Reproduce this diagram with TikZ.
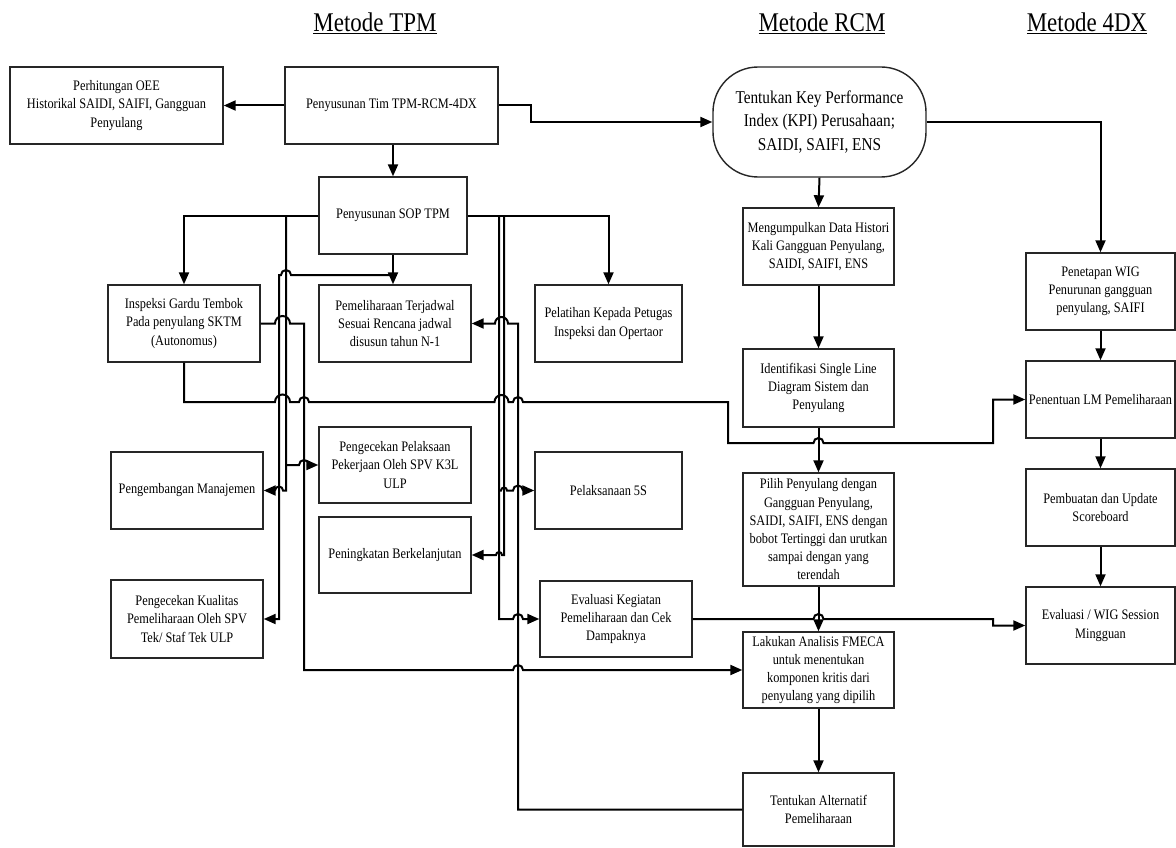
\documentclass[tikz,border=0pt]{standalone}
\usepackage{fontspec}
\setmainfont{Liberation Serif}[FakeStretch=0.85]
\usetikzlibrary{arrows.meta}
\begin{document}
\begin{tikzpicture}[x=1pt,y=-1pt,
 box/.style={draw=black!85, line width=1.4pt, fill=white, minimum width=152pt, minimum height=77pt, inner sep=2pt, align=center, font=\fontsize{14.5}{18.2}\selectfont},
 conn/.style={line width=2pt, black},
 arr/.style={conn, -{Triangle[length=12pt,width=10pt]}},
 ttl/.style={font=\fontsize{27}{30}\selectfont, anchor=base, inner sep=0pt}]
\useasboundingbox (0,0) rectangle (1176,848);
% titles
\node[ttl] (t1) at (375,32) {\underline{Metode TPM}};
\node[ttl] (t2) at (822,32) {\underline{Metode RCM}};
\node[ttl] (t3) at (1087,32) {\underline{Metode 4DX}};
% boxes
\node[box, minimum width=213pt] (oee) at (116.5,105.5) {Perhitungan OEE\\Historikal SAIDI, SAIFI, Gangguan\\Penyulang};
\node[box, minimum width=213pt] (tim) at (391.5,105.5) {Penyusunan Tim TPM-RCM-4DX};
\node[box, minimum width=213pt, minimum height=110pt, rounded corners=45pt, font=\fontsize{18}{23.5}\selectfont] (kpi) at (819.5,122) {Tentukan Key Performance\\Index (KPI) Perusahaan;\\SAIDI, SAIFI, ENS};
\node[box, minimum width=148pt] (sop) at (393,215.5) {Penyusunan SOP TPM};
\node[box] (insp) at (184,323.5) {Inspeksi Gardu Tembok\\Pada penyulang SKTM\\(Autonomus)};
\node[box] (pem) at (395,323.5) {Pemeliharaan Terjadwal\\Sesuai Rencana jadwal\\disusun tahun N-1};
\node[box, minimum width=147pt] (pel) at (608.5,323.5) {Pelatihan Kepada Petugas\\Inspeksi dan Opertaor};
\node[box, minimum height=76pt] (cekpel) at (395,465) {Pengecekan Pelaksaan\\Pekerjaan Oleh SPV K3L\\ULP};
\node[box] (peng) at (187,490.5) {Pengembangan Manajemen};
\node[box, minimum width=147pt] (s5) at (608.5,490.5) {Pelaksanaan 5S};
\node[box, minimum height=76pt] (ningkat) at (395,555) {Peningkatan Berkelanjutan};
\node[box, minimum height=78pt] (kual) at (187,619) {Pengecekan Kualitas\\Pemeliharaan Oleh SPV\\Tek/ Staf Tek ULP};
\node[box, minimum height=76pt] (evk) at (616,619) {Evaluasi Kegiatan\\Pemeliharaan dan Cek\\Dampaknya};
\node[box, minimum width=151pt] (meng) at (818.5,246.5) {Mengumpulkan Data Histori\\Kali Gangguan Penyulang,\\SAIDI, SAIFI, ENS};
\node[box, minimum width=151pt, minimum height=78pt] (iden) at (818.5,388) {Identifikasi Single Line\\Diagram Sistem dan\\Penyulang};
\node[box, minimum width=151pt, minimum height=113pt] (pilih) at (818.5,529.5) {Pilih Penyulang dengan\\Gangguan Penyulang,\\SAIDI, SAIFI, ENS dengan\\bobot Tertinggi dan urutkan\\sampai dengan yang\\terendah};
\node[box, minimum width=151pt, minimum height=76pt] (fmeca) at (818.5,670) {Lakukan Analisis FMECA\\untuk menentukan\\komponen kritis dari\\penyulang yang dipilih};
\node[box, minimum width=151pt, minimum height=73pt] (alt) at (818.5,809.5) {Tentukan Alternatif\\Pemeliharaan};
\node[box, minimum width=149pt] (pen) at (1100.5,291.5) {Penetapan WIG\\Penurunan gangguan\\penyulang, SAIFI};
\node[box, minimum width=149pt] (lm) at (1100.5,399.5) {Penentuan LM Pemeliharaan};
\node[box, minimum width=149pt] (pemb) at (1100.5,507.5) {Pembuatan dan Update\\Scoreboard};
\node[box, minimum width=149pt] (evw) at (1100.5,625.5) {Evaluasi / WIG Session\\Mingguan};
% junction coordinates
\coordinate (j1) at (393,275);
\coordinate (j2) at (286,215.5);
\coordinate (j3) at (286,465);
\coordinate (j4) at (499,215.5);
\coordinate (j5) at (499,490.5);
\coordinate (j6) at (504,215.5);
% main flow
\draw[arr] (tim.west) -- (oee.east);
\draw[arr] (sop.north |- tim.south) -- (sop.north);
\draw[arr] (tim.east) -- (531,105.5) -- (531,122) -- (kpi.west);
\draw[arr] (kpi.south) -- (meng.north);
\draw[arr] (meng.south) -- (iden.north);
\draw[arr] (iden.south) -- (pilih.north);
\draw[arr] (pilih.south) -- (fmeca.north);
\draw[arr] (fmeca.south) -- (alt.north);
\draw[arr] (kpi.east) -| (pen.north);
\draw[arr] (pen.south) -- (lm.north);
\draw[arr] (lm.south) -- (pemb.north);
\draw[arr] (pemb.south) -- (evw.north);
% SOP branches
\draw[arr] (sop.west) -| (insp.north);
\draw[arr] (sop.east) -| (pel.north);
\draw[arr] (sop.south) -- (sop.south |- pem.north);
\draw[arr] (j1) -- (291,275) arc[start angle=0,end angle=180,radius=5pt] -- (279,275) -- (279,619) -- (kual.east);
\draw[arr] (j2) -- (286,490.5) -- (283,490.5) arc[start angle=0,end angle=180,radius=4pt] -- (peng.east);
\draw[arr] (j3) -- (299,465) arc[start angle=180,end angle=0,radius=5pt] -- (cekpel.west);
\draw[arr] (j4) -- (499,619) -- (513,619) arc[start angle=180,end angle=0,radius=5pt] -- (evk.west);
\draw[arr] (j5) -- (501,490.5) arc[start angle=180,end angle=0,radius=3pt] -- (513,490.5) arc[start angle=180,end angle=0,radius=5pt] -- (s5.west);
\draw[arr] (j6) -- (504,555) -- (502,555) arc[start angle=0,end angle=180,radius=3pt] -- (ningkat.east);
% feedback from alternatif
\draw[arr] (alt.west) -- (518,809.5) -- (518,323.5) -- (508,323.5) arc[start angle=0,end angle=180,radius=6.5pt] -- (pem.east);
% inspeksi to FMECA
\draw[arr] (insp.east) -- (275,323.5) arc[start angle=180,end angle=0,radius=7.5pt] -- (304,323.5) -- (304,670) -- (513,670) arc[start angle=180,end angle=0,radius=5pt] -- (fmeca.west);
% inspeksi to LM
\draw[arr] (insp.south) -- (184,402) -- (275,402) arc[start angle=180,end angle=0,radius=7.5pt] -- (299,402) arc[start angle=180,end angle=0,radius=5pt] -- (494.5,402) arc[start angle=180,end angle=0,radius=7pt] -- (513,402) arc[start angle=180,end angle=0,radius=5pt] -- (728,402) -- (728,443) -- (813.5,443) arc[start angle=180,end angle=0,radius=5pt] -- (993,443) -- (993,399.5) -- (lm.west);
% evaluasi kegiatan to WIG session
\draw[arr] (evk.east) -- (813.5,619) arc[start angle=180,end angle=0,radius=5pt] -- (993,619) -- (993,625.5) -- (evw.west);
\end{tikzpicture}
\end{document}
